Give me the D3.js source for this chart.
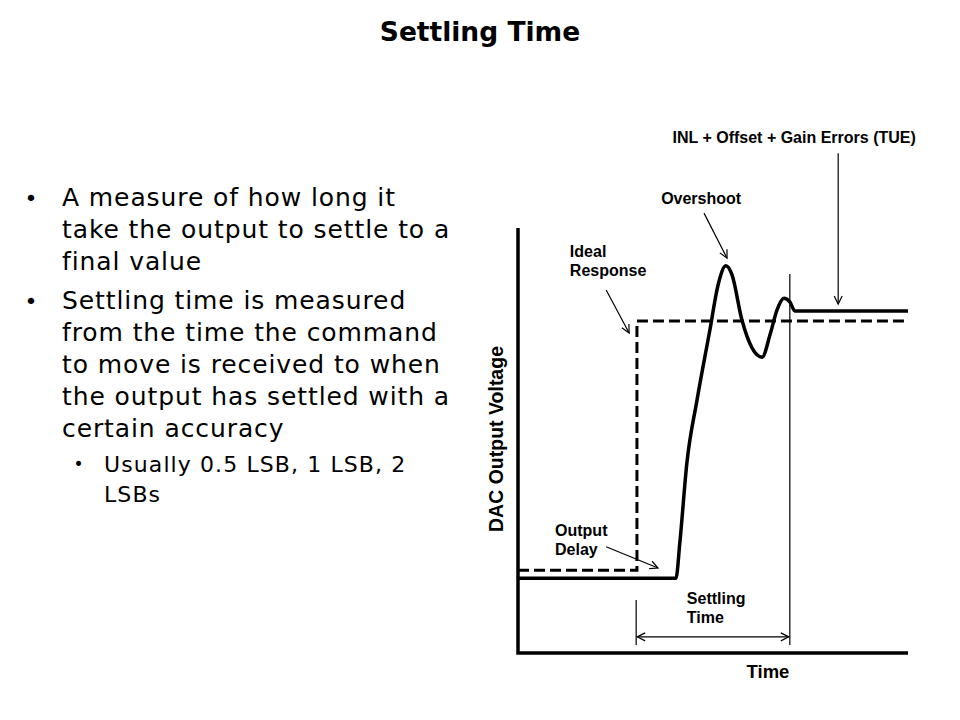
<!DOCTYPE html>
<html>
<head>
<meta charset="utf-8">
<script src="https://cdn.jsdelivr.net/npm/d3@7"></script>
<style>
  body { margin: 0; background: #fff; }
  svg { display: block; }
</style>
</head>
<body>
<svg id="slide" width="960" height="720"></svg>
<script>
// slide text
let title = "Settling Time";
let bullets = [
  { level: 1, lines: ["A measure of how long it", "take the output to settle to a", "final value"] },
  { level: 1, lines: ["Settling time is measured", "from the time the command", "to move is received to when", "the output has settled with a", "certain accuracy"] },
  { level: 2, lines: ["Usually 0.5 LSB, 1 LSB, 2", "LSBs"] },
];

// chart data: time (0-10) vs DAC output voltage (0-10)
let ideal = [[0, 1.95], [3.05, 1.95], [3.05, 7.81], [10, 7.81]];
let actual = [
  [0, 1.76], [4.05, 1.76], [4.15, 2.6], [4.33, 4.47], [4.59, 5.95], [4.92, 7.6],
  [5.13, 8.66], [5.33, 9.11], [5.49, 8.89], [5.74, 7.84], [6.0, 7.18], [6.26, 6.96],
  [6.46, 7.48], [6.64, 8.07], [6.82, 8.35], [6.97, 8.26], [7.1, 8.05], [10, 8.05],
];
let settleStart = 3.03;
let settleEnd = 6.97;

// annotation arrows [from, to] in data units
let arrows = [
  [[8.21, 11.76], [8.21, 8.21]],
  [[4.77, 10.35], [5.36, 9.29]],
  [[2.26, 8.54], [2.85, 7.53]],
  [[2.26, 2.5], [3.59, 2.0]],
];
let labels = [
  { t: 10.2, v: 12.0, anchor: "end", lines: ["INL + Offset + Gain Errors (TUE)"] },
  { t: 3.67, v: 10.56, anchor: "start", lines: ["Overshoot"] },
  { t: 1.33, v: 9.32, anchor: "start", lines: ["Ideal", "Response"] },
  { t: 0.95, v: 2.75, anchor: "start", lines: ["Output", "Delay"] },
  { t: 4.33, v: 1.15, anchor: "start", lines: ["Settling", "Time"] },
];

var svg = d3.select("#slide");
svg.append("rect").attr("width", 960).attr("height", 720).attr("fill", "#fff");

// title
svg.append("text")
  .attr("x", 480)
  .attr("y", 41)
  .attr("text-anchor", "middle")
  .style("font-family", "'DejaVu Sans', Verdana, sans-serif")
  .style("font-weight", "700")
  .style("font-size", "26.5px")
  .text(title);

// bullet list
var yPos = 206;
bullets.forEach((b, i) => {
  var sub = b.level == 2;
  if (i > 0) yPos += sub ? 35 : 39;
  svg.append("text")
    .attr("x", sub ? 78.5 : 31)
    .attr("y", yPos - (sub ? 2 : 0))
    .attr("text-anchor", "middle")
    .style("font-family", "'DejaVu Sans', sans-serif")
    .style("font-size", sub ? "17px" : "22px")
    .text("\u2022");
  b.lines.forEach((line, j) => {
    if (j > 0) yPos += sub ? 30 : 32;
    svg.append("text")
      .attr("x", sub ? 104 : 62)
      .attr("y", yPos)
      .style("font-family", "'DejaVu Sans', Verdana, sans-serif")
      .style("font-size", sub ? "22px" : "25px")
      .style("letter-spacing", sub ? "1.1px" : "0.9px")
      .text(line);
  });
});

// chart
var x = d3.scaleLinear().domain([0, 10]).range([518, 908]);
var y = d3.scaleLinear().domain([0, 10]).range([653, 228]);
var line = d3.line().x((d) => x(d[0])).y((d) => y(d[1]));

var defs = svg.append("defs");
defs.append("marker")
  .attr("id", "arrow")
  .attr("markerUnits", "userSpaceOnUse")
  .attr("viewBox", "-10 -6 12 12")
  .attr("refX", 0)
  .attr("refY", 0)
  .attr("markerWidth", 12)
  .attr("markerHeight", 12)
  .attr("orient", "auto-start-reverse")
  .append("path")
  .attr("d", "M-8,-4 L0,0 L-8,4")
  .attr("fill", "none")
  .attr("stroke", "#000")
  .attr("stroke-width", 1.2);

// axes
svg.append("path")
  .attr("d", line([[0, 10], [0, 0], [10, 0]]))
  .attr("fill", "none")
  .attr("stroke", "#000")
  .attr("stroke-width", 3.5);

// ideal response (dashed)
svg.append("path")
  .attr("d", line(ideal))
  .attr("fill", "none")
  .attr("stroke", "#000")
  .attr("stroke-width", 3)
  .attr("stroke-dasharray", "11,5");

// actual response
svg.append("path")
  .attr("d", d3.line().x((d) => x(d[0])).y((d) => y(d[1])).curve(d3.curveMonotoneX)(actual))
  .attr("fill", "none")
  .attr("stroke", "#000")
  .attr("stroke-width", 3.5)
  .attr("stroke-linejoin", "round");

// settling time markers
svg.append("line")
  .attr("x1", x(settleStart)).attr("x2", x(settleStart))
  .attr("y1", y(1.25)).attr("y2", y(0.19))
  .attr("stroke", "#000").attr("stroke-width", 1.2);
svg.append("line")
  .attr("x1", x(settleEnd)).attr("x2", x(settleEnd))
  .attr("y1", y(8.92)).attr("y2", y(0.19))
  .attr("stroke", "#000").attr("stroke-width", 1.2);
svg.append("line")
  .attr("x1", x(settleStart) + 1).attr("x2", x(settleEnd) - 1)
  .attr("y1", y(0.38)).attr("y2", y(0.38))
  .attr("stroke", "#000").attr("stroke-width", 1.2)
  .attr("marker-start", "url(#arrow)")
  .attr("marker-end", "url(#arrow)");

// annotation arrows
arrows.forEach((a) => {
  svg.append("line")
    .attr("x1", x(a[0][0])).attr("y1", y(a[0][1]))
    .attr("x2", x(a[1][0])).attr("y2", y(a[1][1]))
    .attr("stroke", "#000").attr("stroke-width", 1.2)
    .attr("marker-end", "url(#arrow)");
});

// annotation labels
labels.forEach((l) => {
  var t = svg.append("text")
    .attr("x", x(l.t))
    .attr("y", y(l.v))
    .attr("text-anchor", l.anchor)
    .style("font-family", "'Liberation Sans', Arial, sans-serif")
    .style("font-weight", "700")
    .style("font-size", "16px");
  l.lines.forEach((s, j) => {
    t.append("tspan").attr("x", x(l.t)).attr("dy", j == 0 ? 0 : 19).text(s);
  });
});

// axis titles
svg.append("text")
  .attr("x", 768)
  .attr("y", 678)
  .attr("text-anchor", "middle")
  .style("font-family", "'Liberation Sans', Arial, sans-serif")
  .style("font-weight", "700")
  .style("font-size", "18.5px")
  .text("Time");
svg.append("text")
  .attr("transform", "translate(503,439) rotate(-90)")
  .attr("text-anchor", "middle")
  .style("font-family", "'Liberation Sans', Arial, sans-serif")
  .style("font-weight", "700")
  .style("font-size", "19.5px")
  .text("DAC Output Voltage");
</script>
</body>
</html>
